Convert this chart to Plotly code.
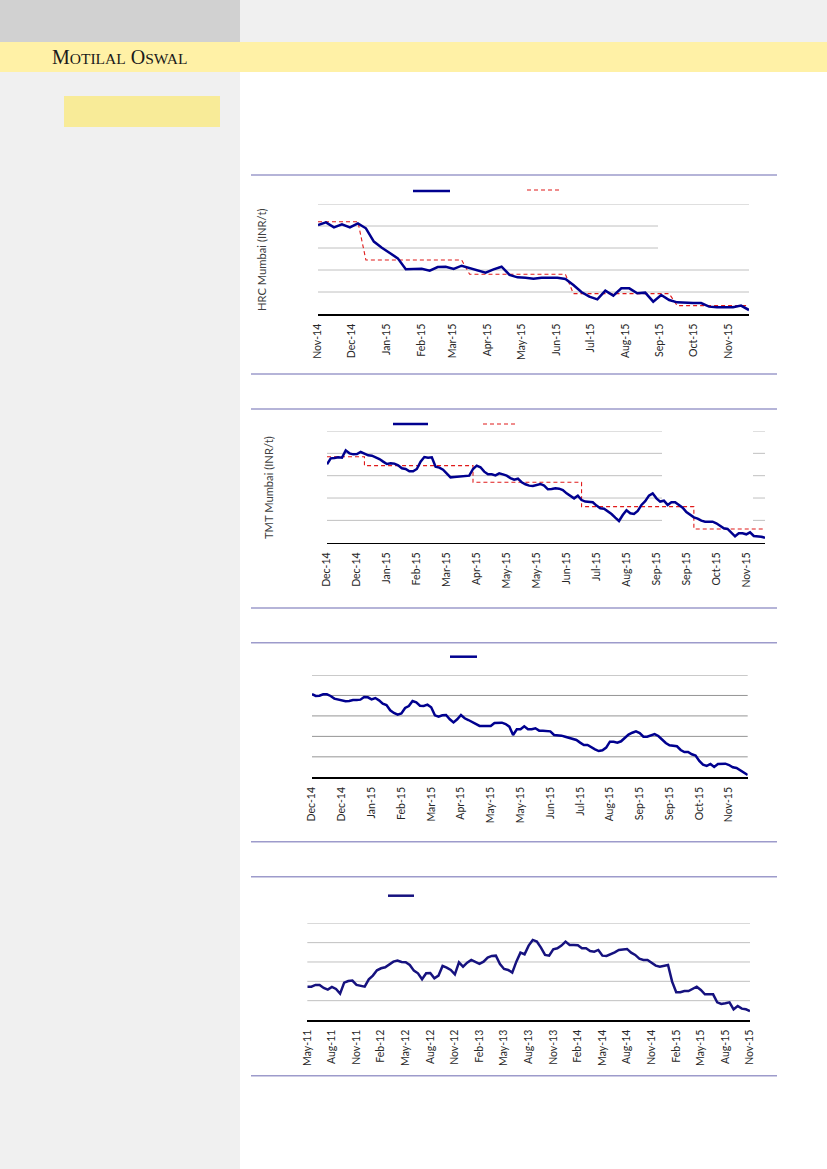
import plotly.graph_objects as go
import pandas as pd

W, H = 827, 1169

# ---------------- Chart 1: HRC Mumbai (weekly) ----------------
hrc_dates = pd.date_range("2014-11-01", "2015-11-19", periods=55)
hrc_price = [36090, 36330, 35880, 36150, 35880, 36240, 35790, 34580, 34030, 33520,
             33060, 32060, 32060, 32120, 31940, 32270, 32300, 32090, 32390, 32180,
             31940, 31760, 32060, 32300, 31550, 31330, 31300, 31210, 31300, 31300,
             31300, 31180, 30640, 30000, 29580, 29330, 30120, 29670, 30330, 30330,
             29880, 29940, 29120, 29730, 29270, 29060, 29000, 29000, 29000, 28670,
             28610, 28580, 28610, 28760, 28360]
hrc_avg = [36390, 36390, 36390, 36390, 36390, 36390,
           32910, 32910, 32910, 32910, 32910, 32910, 32910, 32910, 32910, 32910, 32910, 32910, 32910,
           31610, 31610, 31610, 31610, 31610, 31610, 31610, 31610, 31610, 31610, 31610, 31610, 31610,
           29850, 29850, 29850, 29850, 29850, 29850, 29850, 29850, 29850, 29850, 29850, 29850, 29850,
           28760, 28760, 28760, 28760, 28760, 28760, 28760, 28760, 28760, 28760]
hrc_tick_labels = ["Nov-14", "Dec-14", "Jan-15", "Feb-15", "Mar-15", "Apr-15", "May-15",
                   "Jun-15", "Jul-15", "Aug-15", "Sep-15", "Oct-15", "Nov-15"]
hrc_tick_dates = pd.date_range("2014-11-01", periods=len(hrc_tick_labels), freq="MS")

# ---------------- Chart 2: TMT Mumbai (daily, sampled) ----------------
tmt_price = [37020, 37550, 37580, 37640, 37610, 38270, 38000, 37910, 37940, 38120,
             37970, 37820, 37790, 37640, 37490, 37260, 37050, 37110, 37080, 36930,
             36660, 36600, 36390, 36390, 36600, 37260, 37670, 37610, 37640, 36810,
             36720, 36540, 36210, 35850, 35880, 35910, 35970, 36000, 36000, 36600,
             36900, 36750, 36360, 36120, 36120, 36030, 36210, 36120, 36000, 35790,
             35640, 35730, 35410, 35230, 35110, 35080, 35170, 35260, 35110, 34780,
             34810, 34870, 34840, 34720, 34420, 34210, 33970, 34210, 33820, 33680,
             33680, 33620, 33320, 33080, 33050, 32810, 32570, 32240, 31940, 32480,
             32900, 32630, 32570, 32840, 33380, 33710, 34210, 34420, 33970, 33680,
             33760, 33380, 33620, 33620, 33380, 33140, 32750, 32480, 32270, 32150,
             31970, 31880, 31860, 31880, 31740, 31530, 31290, 31230, 30900, 30570,
             30840, 30840, 30750, 30930, 30600, 30600, 30540, 30450]
tmt_avg_start = [0, 10, 39, 68, 98, 117]
tmt_avg_value = [37700, 36900, 35410, 33230, 31230, 31230]
tmt_tick_labels = ["Dec-14", "Dec-14", "Jan-15", "Feb-15", "Mar-15", "Apr-15", "May-15", "May-15",
                   "Jun-15", "Jul-15", "Aug-15", "Sep-15", "Sep-15", "Oct-15", "Nov-15"]
TMT_STEP = 8

# ---------------- Chart 3: daily price (sampled) ----------------
c3_price = [34140, 33950, 33980, 34110, 34110, 33950, 33690, 33590, 33560, 33430,
            33460, 33560, 33560, 33590, 33850, 33820, 33620, 33750, 33520, 33200,
            33070, 32550, 32290, 32120, 32250, 32780, 32970, 33460, 33330, 33000,
            32970, 33100, 32840, 32060, 31930, 32060, 32090, 31670, 31370, 31670,
            32090, 31770, 31600, 31410, 31180, 31020, 31020, 31020, 31020, 31310,
            31340, 31340, 31210, 30950, 30140, 30690, 30690, 30980, 30690, 30690,
            30790, 30560, 30560, 30560, 30490, 30140, 30140, 30070, 29970, 29880,
            29810, 29650, 29390, 29160, 29160, 28930, 28740, 28570, 28640, 28900,
            29480, 29480, 29390, 29520, 29810, 30170, 30360, 30490, 30330, 29970,
            29970, 30100, 30230, 30040, 29710, 29350, 29130, 29060, 29030, 28670,
            28470, 28470, 28250, 28120, 27600, 27240, 27110, 27300, 27010, 27300,
            27300, 27330, 27200, 26980, 26910, 26680, 26460, 26230]
c3_tick_labels = ["Dec-14", "Dec-14", "Jan-15", "Feb-15", "Mar-15", "Apr-15", "May-15", "May-15",
                  "Jun-15", "Jul-15", "Aug-15", "Sep-15", "Sep-15", "Oct-15", "Nov-15"]
C3_STEP = 8

# ---------------- Chart 4: long-term price (sampled) ----------------
c4_price = [28620, 28620, 29060, 29060, 28280, 27850, 28540, 28020, 26810, 29660,
            30090, 30180, 29060, 28800, 28620, 30520, 31470, 32850, 33370, 33630,
            34320, 35090, 35350, 35010, 34920, 34230, 32760, 32070, 30520, 32070,
            32160, 30780, 31470, 33970, 33540, 32940, 31810, 34920, 33800, 34830,
            35520, 35090, 34490, 35090, 36130, 36560, 36640, 34490, 33190, 32940,
            32250, 35090, 37420, 36990, 39230, 40700, 40270, 38710, 36820, 36640,
            38280, 38540, 39230, 40270, 39400, 39400, 39320, 38540, 38540, 37850,
            37680, 38110, 36640, 36560, 36990, 37510, 38110, 38200, 38370, 37420,
            36820, 35870, 35520, 35520, 34750, 34060, 33800, 33970, 34230, 29920,
            27160, 27160, 27500, 27500, 28020, 28620, 27760, 26640, 26640, 26640,
            24570, 24140, 24310, 24570, 22760, 23620, 22930, 22760, 22330]
c4_tick_labels = ["May-11", "Aug-11", "Nov-11", "Feb-12", "May-12", "Aug-12", "Nov-12",
                  "Feb-13", "May-13", "Aug-13", "Nov-13", "Feb-14", "May-14", "Aug-14",
                  "Nov-14", "Feb-15", "May-15", "Aug-15", "Nov-15"]
C4_STEP = 6

# gridline levels (value axis) for each chart
hrc_grid = [30000, 32000, 34000, 36000, 38000]
tmt_grid = [32000, 34000, 36000, 38000, 40000]
c3_grid = [28000, 30000, 32000, 34000, 36000]
c4_grid = [25000, 30000, 35000, 40000, 45000]

BLUE = "#00008f"
BLUE4 = "#16127f"
RED = "#e01b1b"
BORDER = "#9d9bcb"
GRID = "#c0c0c0"
GRID3 = "#959595"
TICKFONT = dict(family="Lato", size=10.5, color="#262626")
LW = 2.5


def fx(px):
    return px / W


def fy(py):
    return 1 - py / H


fig = go.Figure()

fig.add_trace(go.Scatter(x=hrc_dates, y=hrc_avg, mode="lines",
                         line=dict(color=RED, width=1.1, dash="4px,3px"),
                         xaxis="x", yaxis="y", hoverinfo="skip"))
fig.add_trace(go.Scatter(x=hrc_dates, y=hrc_price, mode="lines",
                         line=dict(color=BLUE, width=LW), xaxis="x", yaxis="y"))

tmt_x = list(range(len(tmt_price)))
fig.add_trace(go.Scatter(x=tmt_avg_start, y=tmt_avg_value, mode="lines", line_shape="hv",
                         line=dict(color=RED, width=1.1, dash="4px,3px"),
                         xaxis="x2", yaxis="y2", hoverinfo="skip"))
fig.add_trace(go.Scatter(x=tmt_x, y=tmt_price, mode="lines",
                         line=dict(color=BLUE, width=LW), xaxis="x2", yaxis="y2"))

c3_x = list(range(len(c3_price)))
fig.add_trace(go.Scatter(x=c3_x, y=c3_price, mode="lines",
                         line=dict(color=BLUE, width=LW), xaxis="x3", yaxis="y3"))

c4_x = list(range(len(c4_price)))
fig.add_trace(go.Scatter(x=c4_x, y=c4_price, mode="lines",
                         line=dict(color=BLUE4, width=LW), xaxis="x4", yaxis="y4"))


def xaxis_cat(x0, x1, labels, step, last, anchor):
    return dict(domain=[fx(x0), fx(x1)], range=[0, last],
                tickmode="array", tickvals=[k * step for k in range(len(labels))],
                ticktext=labels, tickangle=-90, showgrid=False, zeroline=False,
                showline=True, linecolor="black", linewidth=1.5, ticks="",
                ticklabelstandoff=4, tickfont=TICKFONT, anchor=anchor,
                fixedrange=True, automargin=False)


def yaxis_plain(ytop, ybot, lo, hi, anchor):
    return dict(domain=[fy(ybot), fy(ytop)], range=[lo, hi],
                showgrid=False, zeroline=False, showline=False,
                showticklabels=False, ticks="", anchor=anchor,
                fixedrange=True, automargin=False)


layout = dict(
    template="none",
    width=W, height=H, autosize=False,
    margin=dict(l=0, r=0, t=0, b=0, pad=0, autoexpand=False),
    paper_bgcolor="white", plot_bgcolor="rgba(0,0,0,0)",
    showlegend=False,
    xaxis=dict(domain=[fx(318), fx(749)], type="date",
               range=[hrc_dates[0], hrc_dates[-1]],
               tickmode="array", tickvals=list(hrc_tick_dates), ticktext=hrc_tick_labels,
               tickangle=-90, showgrid=False, zeroline=False, showline=True,
               linecolor="black", linewidth=1.5, ticks="", ticklabelstandoff=4,
               tickfont=TICKFONT, anchor="y", fixedrange=True, automargin=False),
    yaxis=yaxis_plain(204, 314, 28000, 38000, "x"),
    xaxis2=xaxis_cat(327, 765, tmt_tick_labels, TMT_STEP, len(tmt_price) - 1, "y2"),
    yaxis2=yaxis_plain(431, 542.7, 30000, 40000, "x2"),
    xaxis3=xaxis_cat(312, 747.7, c3_tick_labels, C3_STEP, len(c3_price) - 1, "y3"),
    yaxis3=yaxis_plain(675, 777.3, 26000, 36000, "x3"),
    xaxis4=xaxis_cat(307.3, 750, c4_tick_labels, C4_STEP, len(c4_price) - 1, "y4"),
    yaxis4=yaxis_plain(923.3, 1020, 20000, 45000, "x4"),
)
fig.update_layout(**layout)

shapes = []


def prect(x0, y0, x1, y1, color):
    shapes.append(dict(type="rect", xref="paper", yref="paper",
                       x0=fx(x0), x1=fx(x1), y0=fy(y1), y1=fy(y0),
                       fillcolor=color, line=dict(width=0), layer="below"))


def pline(x0, y0, x1, y1, color, width, dash="solid"):
    shapes.append(dict(type="line", xref="paper", yref="paper",
                       x0=fx(x0), x1=fx(x1), y0=fy(y0), y1=fy(y1),
                       line=dict(color=color, width=width, dash=dash), layer="above"))


def gridlines(ax, levels, color, segments_for):
    for v in levels:
        for (a, b) in segments_for(v):
            shapes.append(dict(type="line", xref=ax[0] + " domain", yref=ax[1],
                               x0=a, x1=b, y0=v, y1=v,
                               line=dict(color=color, width=1), layer="below"))


# page background
prect(0, 0, 240, 42, "#d1d1d1")
prect(240, 0, 827, 42, "#f0f0f0")
prect(0, 42, 827, 72, "#fff1a6")
prect(0, 72, 240, 1169, "#f0f0f0")
prect(64, 96, 220, 127, "#f8eb98")

# gridlines (some partly hidden by a blank text box in the original)
gridlines(("x", "y"), hrc_grid, GRID,
          lambda v: [(0, (658 - 318) / 431)] if v in (34000, 36000) else [(0, 1)])
gridlines(("x2", "y2"), tmt_grid, GRID,
          lambda v: [(0, (662 - 327) / 438), ((753 - 327) / 438, 1)])
gridlines(("x3", "y3"), c3_grid, GRID3, lambda v: [(0, 1)])
gridlines(("x4", "y4"), c4_grid, GRID, lambda v: [(0, 1)])

# chart frame lines
for yy in [175, 374, 409, 608, 642.7, 841.7, 876.7, 1075.7]:
    pline(251, yy, 777, yy, BORDER, 1.5)

# legend samples
pline(413, 191, 450, 191, BLUE, 2.5)
pline(527, 190, 560, 190, RED, 1.1, "4px,3px")
pline(393, 424, 428, 424, BLUE, 2.5)
pline(483, 424, 517, 424, RED, 1.1, "4px,3px")
pline(450, 656.7, 477, 656.7, BLUE, 2.5)
pline(388, 895.7, 414, 895.7, BLUE4, 2.5)

fig.update_layout(shapes=shapes)

annotations = [
    dict(text="M<span style='font-size:15.5px'>OTILAL</span> O<span style='font-size:15.5px'>SWAL</span>",
         xref="paper", yref="paper", x=fx(50), y=fy(57.5), xanchor="left", yanchor="middle",
         showarrow=False, font=dict(family="Liberation Serif", size=20, color="#1a1a1a")),
    dict(text="HRC Mumbai (INR/t)", xref="paper", yref="paper", x=fx(262), y=fy(260),
         xanchor="center", yanchor="middle", textangle=-90, showarrow=False,
         font=dict(family="Lato", size=11.2, color="#404040")),
    dict(text="TMT Mumbai (INR/t)", xref="paper", yref="paper", x=fx(268), y=fy(488),
         xanchor="center", yanchor="middle", textangle=-90, showarrow=False,
         font=dict(family="Lato", size=11.2, color="#404040")),
]
fig.update_layout(annotations=annotations)

fig.write_html(
    "out.html",
    config={"staticPlot": True, "displayModeBar": False},
    post_script=("document.documentElement.style.margin='0px';"
                 "document.documentElement.style.overflow='hidden';"
                 "document.body.style.margin='0px';"
                 "document.body.style.padding='0px';"
                 "document.body.style.overflow='hidden';"),
)
